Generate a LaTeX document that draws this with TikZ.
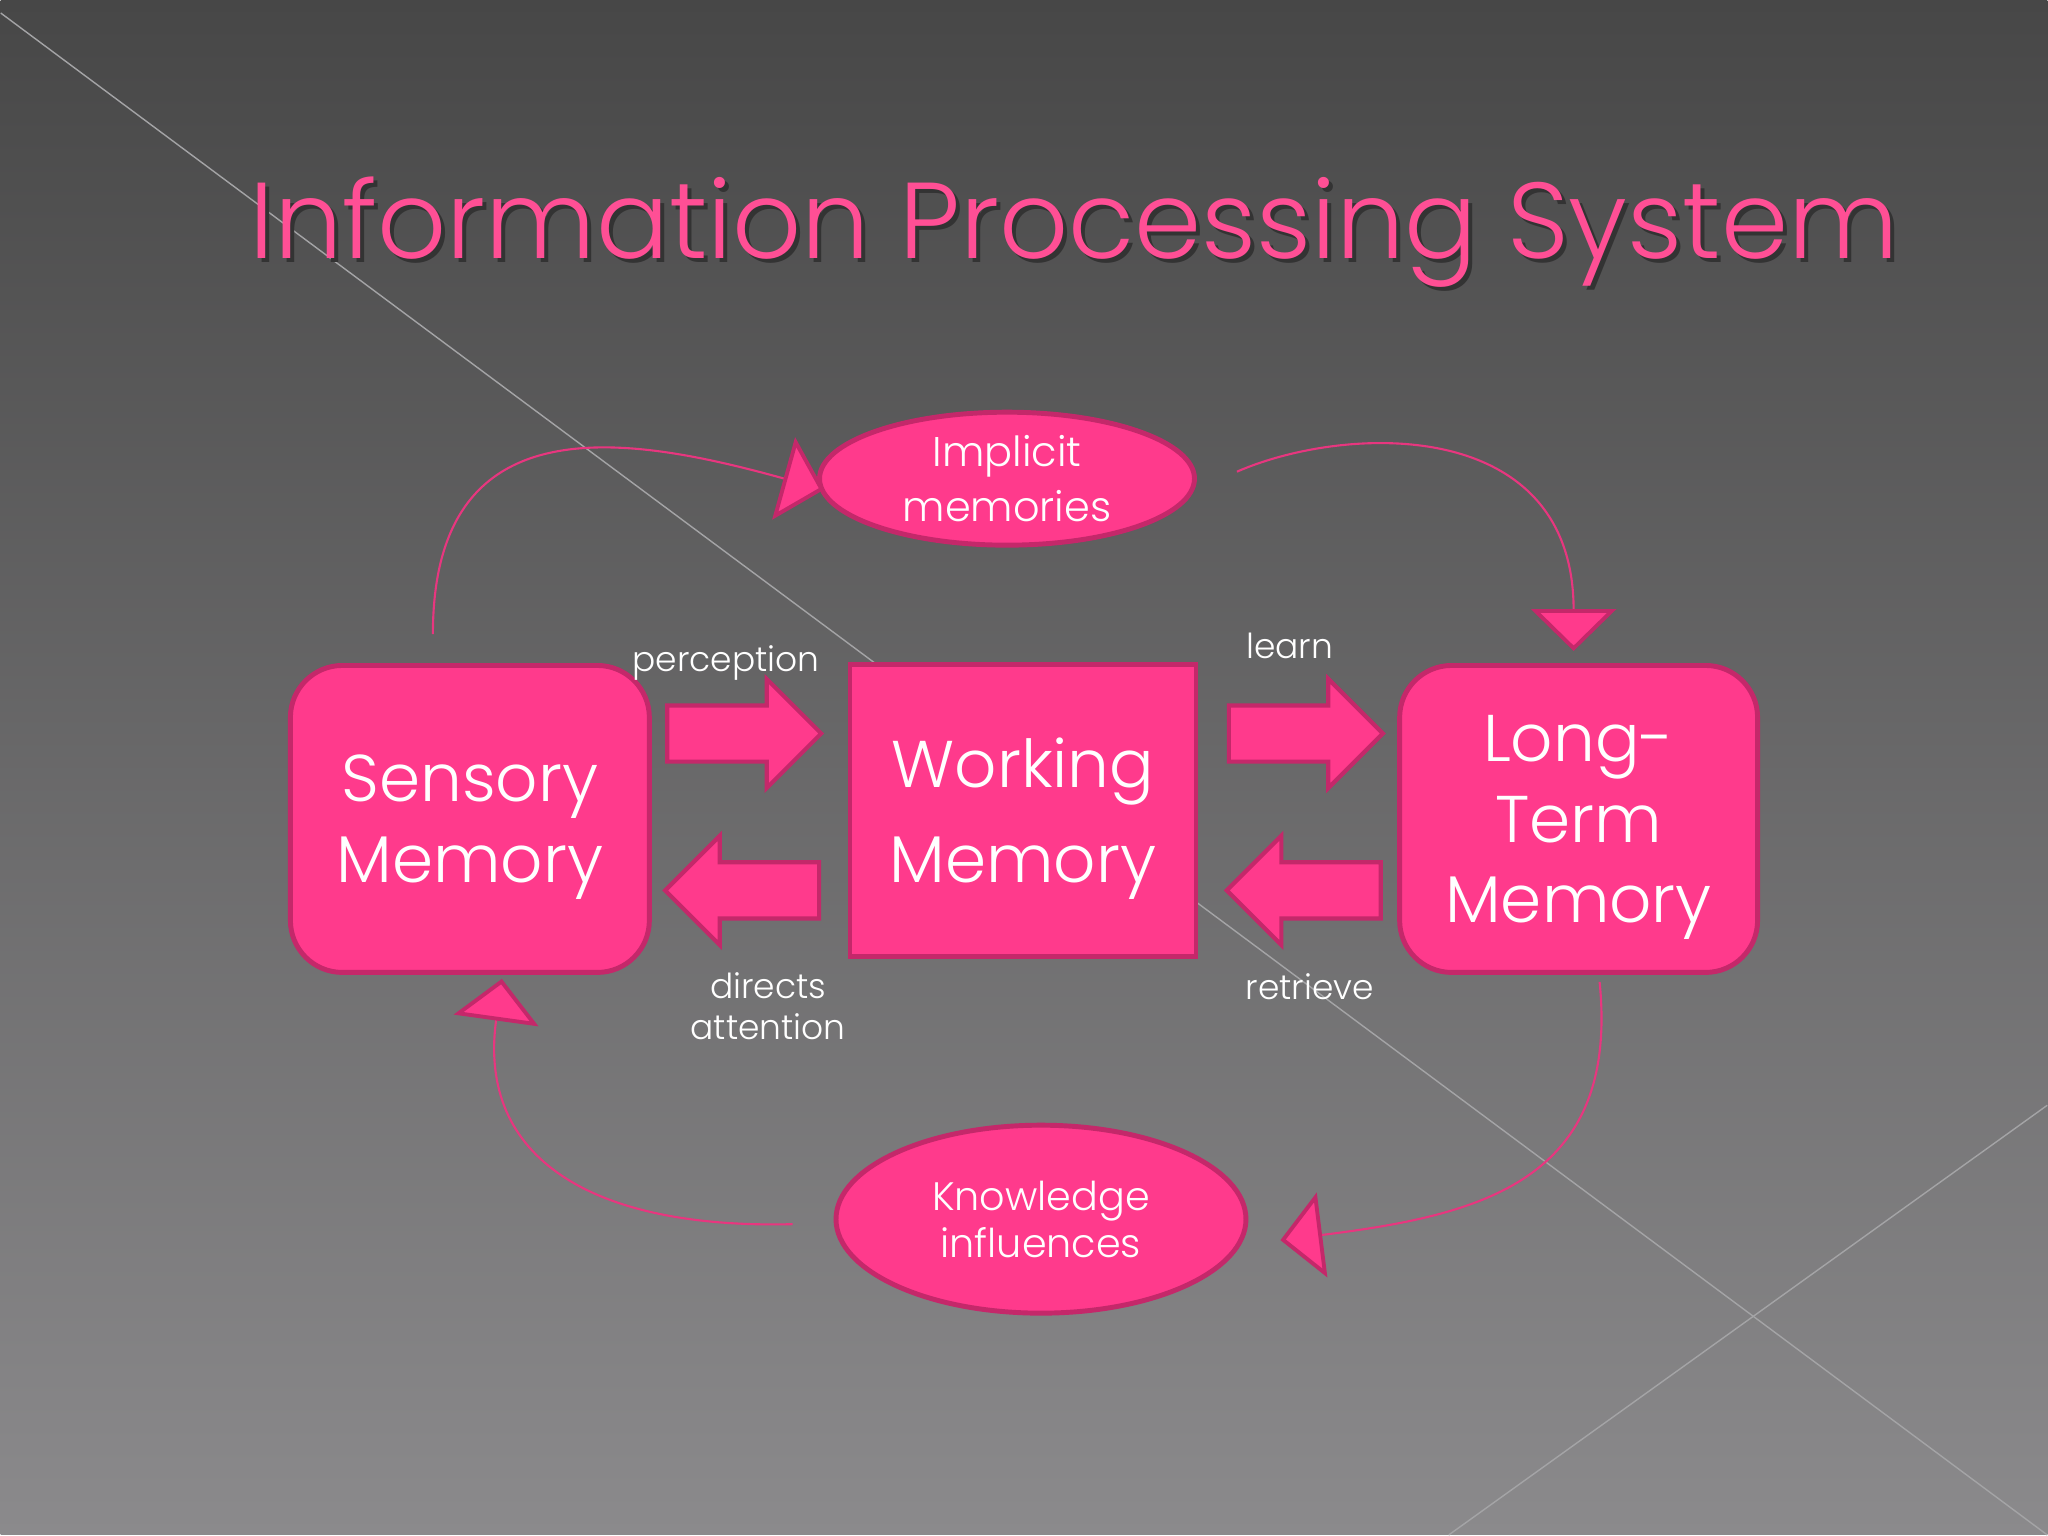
\documentclass[tikz,border=0pt]{standalone}
\usepackage{fontspec}
\setmainfont{Poppins}[UprightFont=* Light]
\usetikzlibrary{shapes.geometric,shapes.arrows,arrows.meta}
\definecolor{pinkfill}{HTML}{FF3A8C}
\definecolor{pinkedge}{HTML}{C4286A}
\definecolor{pinkline}{HTML}{E8367F}
\definecolor{titlepink}{HTML}{FF4F95}
\definecolor{bgtop}{HTML}{474747}
\definecolor{bgbottom}{HTML}{8B8A8C}
\definecolor{streak}{HTML}{A4A4A6}

\begin{document}
\begin{tikzpicture}[x=0.01cm,y=-0.01cm,
    pinkshape/.style={draw=pinkedge,fill=pinkfill,line width=1.4pt,text=white,align=center,inner sep=0pt},
    memory/.style={pinkshape,text depth=0pt},
    bubble/.style={pinkshape,ellipse,inner sep=-3pt},
    blockarrow/.style={single arrow,draw=pinkedge,fill=pinkfill,line width=1.2pt,inner xsep=0pt,inner ysep=0.26cm,
        single arrow head extend=0.265cm,minimum height=1.54cm},
    flowlabel/.style={text=white,align=center,font=\fontsize{9.8}{11.7}\selectfont},
    feedback/.style={draw=pinkline,line width=0.6pt,
        -{Triangle[length=0.42cm,width=0.85cm,line width=1.1pt,color=pinkedge,fill=pinkfill]}}]
\shade[top color=bgtop,bottom color=bgbottom] (0,0) rectangle (2048,1536);
\draw[streak,line width=0.4pt] (0,13) -- (2048,1536);
\draw[streak,line width=0.4pt] (2048,1106) -- (1449,1536);

\node[anchor=base,text=black!80,font=\fontsize{30.7}{36}\selectfont] at (1078,263) {Information Processing System};
\node[anchor=base,text=titlepink,font=\fontsize{30.7}{36}\selectfont] (title) at (1074,259) {Information Processing System};

\node[memory,rounded corners=0.52cm,minimum width=3.59cm,minimum height=3.07cm,
    font=\fontsize{18.8}{23}\selectfont] (sensory) at (469.5,819.5) {Sensory\\Memory};
\node[memory,minimum width=3.46cm,minimum height=2.92cm,
    font=\fontsize{18.8}{27}\selectfont] (working) at (1023,811) {Working\\Memory};
\node[memory,rounded corners=0.52cm,minimum width=3.58cm,minimum height=3.07cm,
    font=\fontsize{18.8}{23}\selectfont] (longterm) at (1579,819.5) {Long-\\Term\\Memory};

\node[bubble,minimum width=3.75cm,minimum height=1.33cm,
    font=\fontsize{11.8}{15.6}\selectfont] (implicit) at (1007,479) {Implicit\\memories};
\node[bubble,minimum width=4.1cm,minimum height=1.88cm,
    font=\fontsize{11.3}{13.4}\selectfont] (knowledge) at (1041,1220) {Knowledge\\influences};

\node[blockarrow] (perception) at (730,734) {};
\node[blockarrow,shape border rotate=180] (directs) at (756,891) {};
\node[blockarrow] (learn) at (1292,734) {};
\node[blockarrow,shape border rotate=180] (retrieve) at (1318,891) {};

\node[flowlabel] at (726,663) {perception};
\node[flowlabel] at (768,1007) {directs\\attention};
\node[flowlabel] at (1290,646) {learn};
\node[flowlabel] at (1310,987) {retrieve};

\draw[feedback] ([shift={(-37,-29)}]sensory.north) .. controls +(0,-232) and +(-198,-55) .. ([shift={(7,11)}]implicit.west);
\draw[feedback] ([shift={(40,-7)}]implicit.east) .. controls +(110,-48) and +(0,-235) .. ([shift={(-5,-12)}]longterm.north);
\draw[feedback] ([shift={(21,7)}]longterm.south) .. controls +(20,200) and +(200,-25) .. ([shift={(32,21)}]knowledge.east);
\draw[feedback] ([shift={(-41,5)}]knowledge.west) .. controls +(-200,5) and +(-25,180) .. ([shift={(32,4)}]sensory.south);
\end{tikzpicture}
\end{document}
